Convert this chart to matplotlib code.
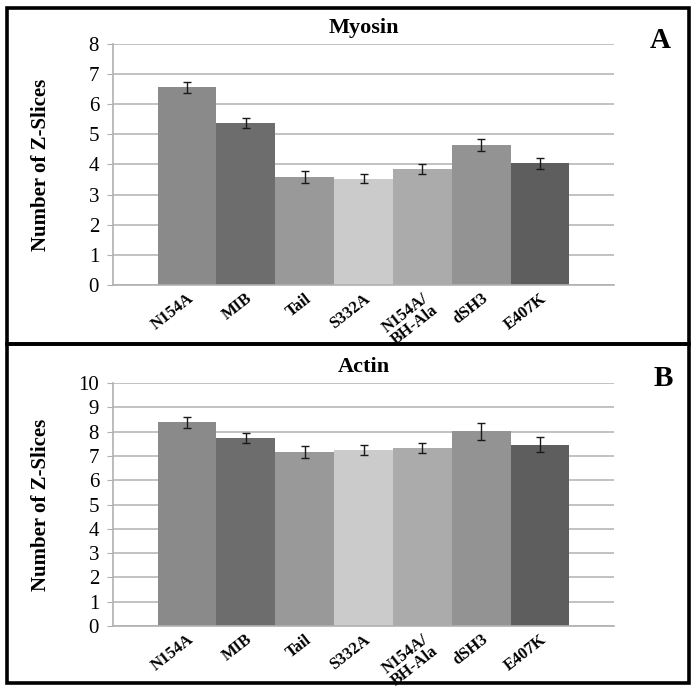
"""Two-panel bar chart: number of Z-slices for myosin and actin mutants."""

import matplotlib.pyplot as plt
from matplotlib.patches import Rectangle

plt.rcParams["font.family"] = ["Liberation Serif", "DejaVu Serif"]

CATEGORIES = ["N154A", "MIB", "Tail", "S332A", "N154A/\nBH-Ala", "dSH3", "E407K"]

MYOSIN = [6.56, 5.38, 3.60, 3.53, 3.85, 4.65, 4.04]
MYOSIN_ERR = [0.17, 0.16, 0.20, 0.15, 0.16, 0.19, 0.19]

ACTIN = [8.38, 7.74, 7.15, 7.24, 7.33, 8.01, 7.45]
ACTIN_ERR = [0.23, 0.19, 0.24, 0.22, 0.21, 0.35, 0.31]

BAR_COLORS = ["#8a8a8a", "#6d6d6d", "#999999", "#cbcbcb", "#ababab", "#939393", "#5e5e5e"]

W, H = 699, 692


def draw_panel(ax, values, errors, ymax, title):
    x = range(len(values))
    ax.bar(x, values, width=1.0, color=BAR_COLORS, zorder=2)
    ax.errorbar(x, values, yerr=errors, fmt="none", ecolor="#1a1a1a",
                elinewidth=1.0, capsize=3, capthick=1.0, zorder=3)
    ax.set_xlim(-1.26, 7.26)
    ax.set_ylim(0, ymax)
    ax.set_yticks(range(0, ymax + 1))
    ax.yaxis.grid(True, color="#b8b8b8", linewidth=1.2, zorder=0)
    ax.set_axisbelow(True)
    for side in ("top", "right"):
        ax.spines[side].set_visible(False)
    for side in ("left", "bottom"):
        ax.spines[side].set_color("#b0b0b0")
        ax.spines[side].set_linewidth(1.2)
    ax.tick_params(axis="y", length=4, color="#b0b0b0", labelsize=15, pad=6)
    ax.tick_params(axis="x", length=0, pad=4)
    ax.set_xticks(list(x))
    ax.set_xticklabels(CATEGORIES, rotation=38, ha="right",
                       rotation_mode="anchor", fontweight="bold", fontsize=12,
                       linespacing=0.88, multialignment="center")
    ax.set_ylabel("Number of Z-Slices", fontweight="bold", fontsize=15)
    ax.yaxis.set_label_coords((51 - 113) / 501, 0.5)
    ax.set_title(title, fontweight="bold", fontsize=16, pad=8)


def main() -> None:
    fig = plt.figure(figsize=(W / 100, H / 100), dpi=100)

    ax_a = fig.add_axes([113 / W, 1 - 285 / H, 501 / W, 241 / H])
    draw_panel(ax_a, MYOSIN, MYOSIN_ERR, 8, "Myosin")

    ax_b = fig.add_axes([113 / W, 1 - 626 / H, 501 / W, 243 / H])
    draw_panel(ax_b, ACTIN, ACTIN_ERR, 10, "Actin")

    # panel frames
    for top, bottom in ((8, 344), (344, 683)):
        fig.patches.append(Rectangle(
            (7 / W, 1 - bottom / H), 682 / W, (bottom - top) / H,
            transform=fig.transFigure, fill=False, edgecolor="black",
            linewidth=2.6))

    fig.text(660 / W, 1 - 40 / H, "A", fontsize=21, fontweight="bold",
             ha="center", va="center")
    fig.text(663 / W, 1 - 378 / H, "B", fontsize=21, fontweight="bold",
             ha="center", va="center")

    fig.savefig("out.png", dpi=100)


if __name__ == "__main__":
    main()
